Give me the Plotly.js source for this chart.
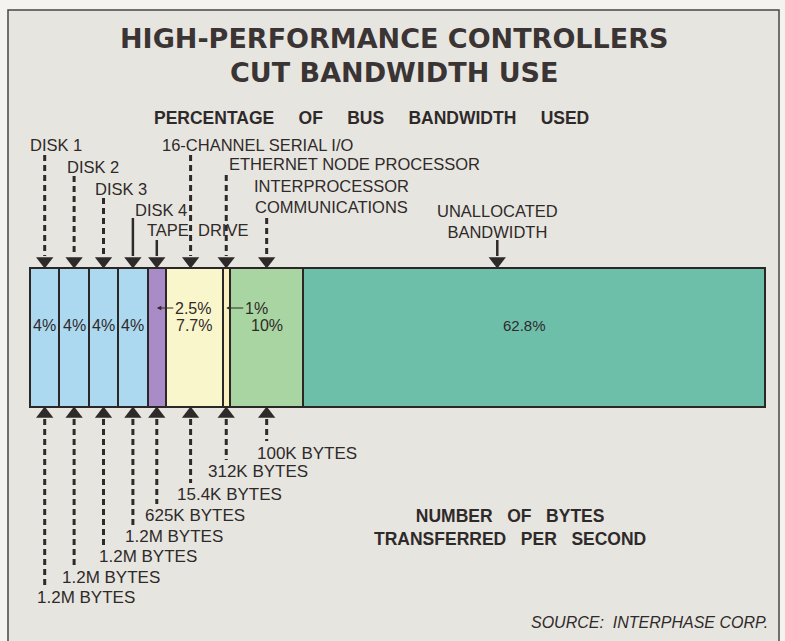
<!DOCTYPE html>
<html>
<head>
<meta charset="utf-8">
<script src="https://cdn.plot.ly/plotly-3.0.1.min.js"></script>
<style>
  body { margin: 0; background: #f3f2ef; }
  #myDiv { width: 785px; height: 641px; }
</style>
</head>
<body>
<div id="myDiv"></div>
<script>
// bus bandwidth share per device, left to right along the bar
var segNames = ['DISK 1', 'DISK 2', 'DISK 3', 'DISK 4', 'TAPE&nbsp;&nbsp;DRIVE',
                '16-CHANNEL SERIAL I/O', 'ETHERNET NODE PROCESSOR',
                'INTERPROCESSOR<br>COMMUNICATIONS', 'UNALLOCATED<br>BANDWIDTH'];
var segPct = [4, 4, 4, 4, 2.5, 7.7, 1, 10, 62.8];
var pctLabels = ['4%', '4%', '4%', '4%', '2.5%', '7.7%', '1%', '10%', '62.8%'];
var bytesLabels = ['1.2M BYTES', '1.2M BYTES', '1.2M BYTES', '1.2M BYTES', '625K BYTES',
                   '15.4K BYTES', '312K BYTES', '100K BYTES', ''];
var segColors = ['#acd8f0', '#acd8f0', '#acd8f0', '#acd8f0', '#a98bc7',
                 '#faf6cc', '#f8f1bf', '#a9d5a2', '#6dbfaa'];

// page geometry (pixels)
var W = 785, H = 641;
var barLeft = 30, barRight = 765, barTop = 268, barBottom = 407;
var pxPerPct = (barRight - barLeft) / 100;
function px(x) { return (x - barLeft) / pxPerPct; }

// label placement in pixels: [x, y, anchor]
var topLabelPos = [[28, 145, 'left'], [65, 167, 'left'], [93, 189, 'left'], [133, 210, 'left'],
                   [145, 230, 'left'], [160, 145, 'left'], [227, 164, 'left'],
                   [331, 196, 'center'], [497, 221, 'center']];
var topLineStart = [155, 176, 198, 218, 240, 155, 175, 218, 240];
var topDashed = [true, true, true, false, false, true, true, true, false];
var bottomLabelPos = [[35, 597], [60, 577], [97, 556], [123, 536], [143, 515],
                      [175, 494], [206, 471], [255, 453]];
var bottomLineEnd = [585, 566, 546, 525, 504, 483, 460, 441];

var ink = '#2f2a2a';
var textFont = {family: 'Liberation Sans, Arial, sans-serif', size: 16.5, color: ink};
var bytesFont = {family: 'Liberation Sans, Arial, sans-serif', size: 17, color: ink};

var data = [];
var annotations = [];
var shapes = [];

// stacked bar segments
var start = 0;
var centers = [];
for (var i = 0; i < segPct.length; i++) {
    data.push({
        type: 'bar',
        orientation: 'h',
        x: [segPct[i]],
        y: [(barTop + barBottom) / 2],
        width: [barBottom - barTop],
        marker: {color: segColors[i], line: {color: '#2b2727', width: 2}},
        hoverinfo: 'skip',
        showlegend: false
    });
    centers.push(start + segPct[i] / 2);
    start += segPct[i];
}
// arrow positions: segment centres, except unallocated which sits left of centre
var arrowX = centers.slice();
arrowX[5] = centers[5] - 0.5;
arrowX[8] = (start - segPct[8]) + segPct[8] * 0.42;

function arrow(x, y0, y1, dashed, tipAtEnd) {
    var sym = tipAtEnd ? 'triangle-down' : 'triangle-up';
    data.push({
        type: 'scatter',
        mode: 'lines',
        x: [x, x],
        y: [y0, y1],
        line: {color: ink, width: dashed ? 3 : 2.5, dash: dashed ? '6px,4px' : 'solid'},
        hoverinfo: 'skip',
        showlegend: false
    });
    data.push({
        type: 'scatter',
        mode: 'markers',
        x: [x],
        y: [tipAtEnd ? y1 + 5 : y0 - 5],
        marker: {symbol: sym, size: 15, color: ink},
        hoverinfo: 'skip',
        showlegend: false
    });
}

for (var i = 0; i < segNames.length; i++) {
    var p = topLabelPos[i];
    annotations.push({
        x: px(p[0]), y: p[1], xref: 'x', yref: 'y',
        text: segNames[i], showarrow: false,
        xanchor: p[2], yanchor: 'middle', align: 'center',
        font: textFont
    });
    arrow(arrowX[i], topLineStart[i], barTop - 12, topDashed[i], true);

    if (bytesLabels[i]) {
        var b = bottomLabelPos[i];
        annotations.push({
            x: px(b[0]), y: b[1], xref: 'x', yref: 'y',
            text: bytesLabels[i], showarrow: false,
            xanchor: 'left', yanchor: 'middle',
            font: bytesFont
        });
        arrow(arrowX[i], barBottom + 12, bottomLineEnd[i], true, false);
    }
}

// percentages inside the bar
var pctFont = {family: 'Liberation Sans, Arial, sans-serif', size: 16, color: ink};
for (var i = 0; i < pctLabels.length; i++) {
    if (i === 4 || i === 6) {
        // thin segments: label sits in the next segment with a small pointer
        annotations.push({
            x: centers[i], y: 308, xref: 'x', yref: 'y',
            text: pctLabels[i], showarrow: true,
            ax: i === 4 ? 36 : 30, ay: 0,
            arrowhead: 2, arrowsize: 0.9, arrowwidth: 1, arrowcolor: ink,
            standoff: 0, font: pctFont
        });
    } else {
        annotations.push({
            x: centers[i] + (i === 8 ? -1.35 : 0), y: 325, xref: 'x', yref: 'y',
            text: pctLabels[i], showarrow: false,
            xanchor: 'center', yanchor: 'middle',
            font: i === 8 ? {family: pctFont.family, size: 15, color: ink} : pctFont
        });
    }
}

// titles and notes
var titleFont = {family: 'DejaVu Sans, sans-serif', size: 27, color: '#3a3434', weight: 'bold'};
annotations.push({
    x: px(394), y: 38, xref: 'x', yref: 'y', showarrow: false,
    text: 'HIGH-PERFORMANCE CONTROLLERS', font: titleFont
});
annotations.push({
    x: px(394), y: 72, xref: 'x', yref: 'y', showarrow: false,
    text: 'CUT BANDWIDTH USE', font: titleFont
});
var boldFont = {family: 'Liberation Sans, Arial, sans-serif', size: 17.5, color: ink, weight: 'bold'};
annotations.push({
    x: px(371), y: 118, xref: 'x', yref: 'y', showarrow: false,
    text: 'PERCENTAGE&nbsp;&nbsp;&nbsp;&nbsp; OF&nbsp;&nbsp;&nbsp;&nbsp; BUS&nbsp;&nbsp;&nbsp;&nbsp; BANDWIDTH&nbsp;&nbsp;&nbsp;&nbsp; USED',
    font: boldFont
});
annotations.push({
    x: px(510), y: 527, xref: 'x', yref: 'y', showarrow: false, align: 'center',
    text: 'NUMBER&nbsp;&nbsp; OF&nbsp;&nbsp; BYTES<br>TRANSFERRED&nbsp;&nbsp; PER&nbsp;&nbsp; SECOND',
    font: boldFont
});
annotations.push({
    x: px(770), y: 622, xref: 'x', yref: 'y', showarrow: false, xanchor: 'right',
    text: '<i>SOURCE:&nbsp; INTERPHASE CORP.</i>',
    font: {family: 'Liberation Sans, Arial, sans-serif', size: 16, color: ink}
});

// frame around the graphic
shapes.push({
    type: 'rect', layer: 'below', xref: 'x', yref: 'y',
    x0: px(8), x1: px(779), y0: 10, y1: H + 10,
    fillcolor: '#e7e5e0', line: {color: '#4a4545', width: 1.5}
});

var layout = {
    width: W,
    height: H,
    margin: {l: 0, r: 0, t: 0, b: 0},
    paper_bgcolor: '#f4f3f0',
    plot_bgcolor: 'rgba(0,0,0,0)',
    barmode: 'stack',
    bargap: 0,
    showlegend: false,
    xaxis: {range: [px(0), px(W)], visible: false, fixedrange: true},
    yaxis: {range: [H, 0], visible: false, fixedrange: true},
    annotations: annotations,
    shapes: shapes
};

Plotly.newPlot('myDiv', data, layout, {displayModeBar: false, staticPlot: true});
</script>
</body>
</html>
